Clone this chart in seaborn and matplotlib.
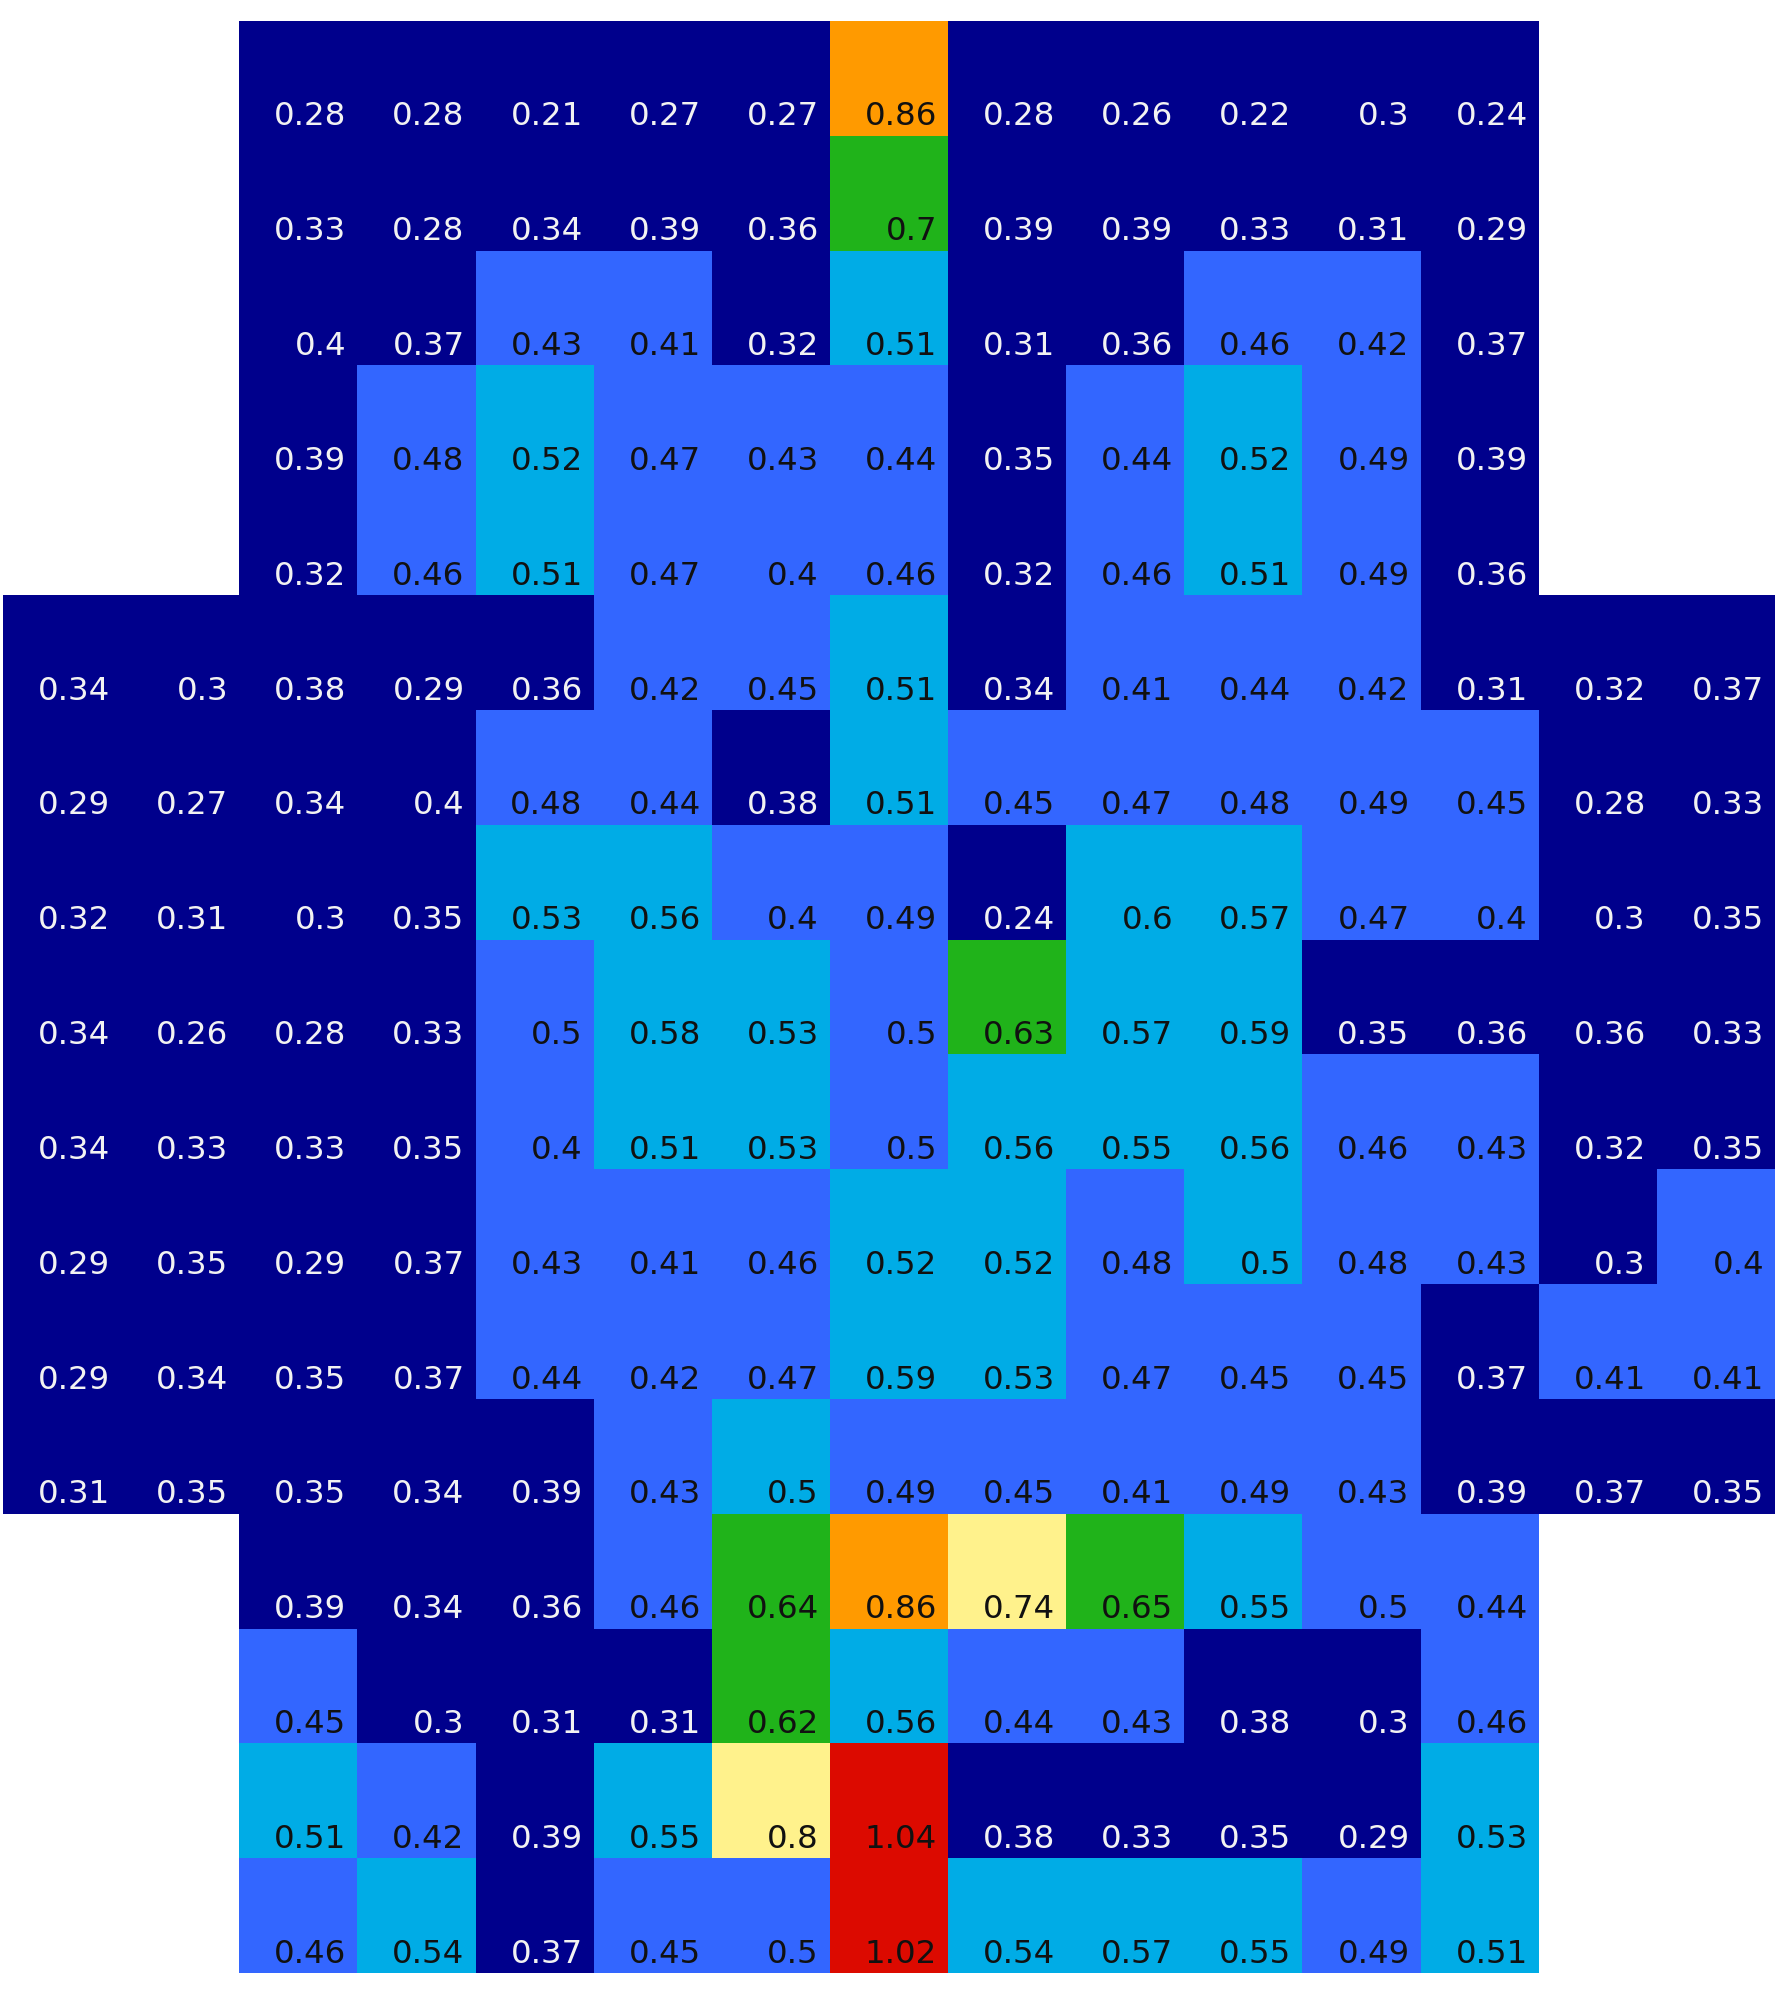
import numpy as np
import pandas as pd
import matplotlib
matplotlib.use("Agg")
import matplotlib.pyplot as plt
from matplotlib.colors import ListedColormap, BoundaryNorm
import seaborn as sns

N = np.nan
# 17 rows x 15 columns; NaN = empty (white) cell
row00 = [N, N, 0.28, 0.28, 0.21, 0.27, 0.27, 0.86, 0.28, 0.26, 0.22, 0.30, 0.24, N, N]
row01 = [N, N, 0.33, 0.28, 0.34, 0.39, 0.36, 0.697, 0.39, 0.39, 0.33, 0.31, 0.29, N, N]
row02 = [N, N, 0.396, 0.37, 0.43, 0.41, 0.32, 0.51, 0.31, 0.36, 0.46, 0.42, 0.37, N, N]
row03 = [N, N, 0.39, 0.48, 0.52, 0.47, 0.43, 0.44, 0.35, 0.44, 0.52, 0.49, 0.39, N, N]
row04 = [N, N, 0.32, 0.46, 0.51, 0.47, 0.40, 0.46, 0.32, 0.46, 0.51, 0.49, 0.36, N, N]
row05 = [0.34, 0.30, 0.38, 0.29, 0.36, 0.42, 0.45, 0.51, 0.34, 0.41, 0.44, 0.42, 0.31, 0.32, 0.37]
row06 = [0.29, 0.27, 0.34, 0.396, 0.48, 0.44, 0.38, 0.51, 0.45, 0.47, 0.48, 0.49, 0.45, 0.28, 0.33]
row07 = [0.32, 0.31, 0.30, 0.35, 0.53, 0.56, 0.40, 0.49, 0.24, 0.597, 0.57, 0.47, 0.40, 0.30, 0.35]
row08 = [0.34, 0.26, 0.28, 0.33, 0.496, 0.58, 0.53, 0.496, 0.63, 0.57, 0.59, 0.35, 0.36, 0.36, 0.33]
row09 = [0.34, 0.33, 0.33, 0.35, 0.40, 0.51, 0.53, 0.496, 0.56, 0.55, 0.56, 0.46, 0.43, 0.32, 0.35]
row10 = [0.29, 0.35, 0.29, 0.37, 0.43, 0.41, 0.46, 0.52, 0.52, 0.48, 0.50, 0.48, 0.43, 0.30, 0.40]
row11 = [0.29, 0.34, 0.35, 0.37, 0.44, 0.42, 0.47, 0.59, 0.53, 0.47, 0.45, 0.45, 0.37, 0.41, 0.41]
row12 = [0.31, 0.35, 0.35, 0.34, 0.39, 0.43, 0.50, 0.49, 0.45, 0.41, 0.49, 0.43, 0.39, 0.37, 0.35]
row13 = [N, N, 0.39, 0.34, 0.36, 0.46, 0.64, 0.86, 0.74, 0.65, 0.55, 0.496, 0.44, N, N]
row14 = [N, N, 0.45, 0.30, 0.31, 0.31, 0.62, 0.56, 0.44, 0.43, 0.38, 0.30, 0.46, N, N]
row15 = [N, N, 0.51, 0.42, 0.39, 0.55, 0.797, 1.04, 0.38, 0.33, 0.35, 0.29, 0.53, N, N]
row16 = [N, N, 0.46, 0.54, 0.37, 0.45, 0.496, 1.02, 0.54, 0.57, 0.55, 0.49, 0.51, N, N]

rows = [row00, row01, row02, row03, row04, row05, row06, row07, row08,
        row09, row10, row11, row12, row13, row14, row15, row16]
data = pd.DataFrame(rows)

bounds = [0.0, 0.4, 0.5, 0.6, 0.7, 0.8, 0.9, 2.0]
colors = ["#00008C", "#3366FF", "#00ACE6", "#20B31A", "#FFF28C", "#FF9A00", "#DC0A00"]
cmap = ListedColormap(colors)
norm = BoundaryNorm(bounds, cmap.N)

fig = plt.figure(figsize=(17.84, 20.02), dpi=100)
ax = fig.add_axes([3 / 1784, 29 / 2002, 1772 / 1784, 1952 / 2002])
sns.heatmap(data, mask=data.isna(), cmap=cmap, norm=norm, cbar=False,
            annot=False, linewidths=0, ax=ax, square=False)
ax.set_xticks([])
ax.set_yticks([])
ax.set_xlabel("")
ax.set_ylabel("")
for s in ax.spines.values():
    s.set_visible(False)

vals = data.values
for i in range(vals.shape[0]):
    for j in range(vals.shape[1]):
        v = vals[i, j]
        if np.isnan(v):
            continue
        label = f"{round(v, 2):g}"
        color = "#F2F2F2" if v < 0.4 else "#111111"
        ax.text(j + 1 - 0.093, i + 1 - 0.09, label, ha="right", va="baseline",
                fontsize=23.3, color=color, family="DejaVu Sans")

fig.savefig("out.png", dpi=100, facecolor="white")
